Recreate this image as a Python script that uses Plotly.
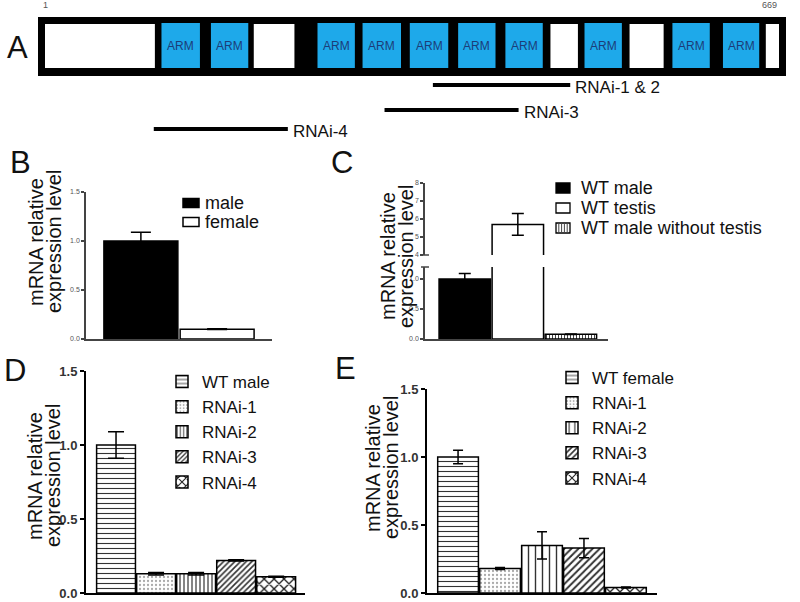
import plotly.graph_objects as go

# ---------------- data ----------------
# Panel A: protein domain map (residue numbers)
protein_length = 669
arm_start = [107, 152, 249, 290, 333, 377, 420, 492, 572, 618]
arm_end = [142, 186, 283, 325, 368, 411, 454, 526, 606, 651]
linker_start = [1, 191, 461, 533, 657]
linker_end = [101, 228, 486, 564, 669]
rnai_names = ["RNAi-1 & 2", "RNAi-3", "RNAi-4"]
rnai_start = [354, 310, 100]
rnai_end = [479, 432, 222]

# Panel B
b_groups = ["male", "female"]
b_values = [1.0, 0.10]
b_errors = [0.09, 0.004]

# Panel C (broken axis)
c_groups = ["WT male", "WT testis", "WT male without testis"]
c_values = [1.0, 5.7, 0.08]
c_errors = [0.09, 0.6, 0.005]

# Panel D
d_groups = ["WT male", "RNAi-1", "RNAi-2", "RNAi-3", "RNAi-4"]
d_values = [1.0, 0.13, 0.13, 0.22, 0.11]
d_errors = [0.09, 0.008, 0.008, 0.004, 0.004]

# Panel E
e_groups = ["WT female", "RNAi-1", "RNAi-2", "RNAi-3", "RNAi-4"]
e_values = [1.0, 0.18, 0.35, 0.33, 0.04]
e_errors = [0.05, 0.008, 0.10, 0.07, 0.004]

# ---------------- helpers / styles ----------------
W, H = 800, 602
FONT = "Liberation Sans, Arial, Helvetica, sans-serif"


def px(x):
    return x / W


def py(y):
    return 1 - y / H


def ann(x, y, text, size, xanchor="center", color="#111", textangle=0, xref="paper", yref="paper", **kw):
    return dict(x=x, y=y, xref=xref, yref=yref, text=text, showarrow=False,
                xanchor=xanchor, yanchor="middle", textangle=textangle,
                font=dict(size=size, color=color, family=FONT), **kw)


fig = go.Figure()

# ---------------- Panel B ----------------
b_fill = ["black", "white"]
for g, v, e, c in zip(b_groups, b_values, b_errors, b_fill):
    fig.add_trace(go.Bar(
        x=[g], y=[v], width=0.97, xaxis="x", yaxis="y", showlegend=False,
        marker=dict(color=c, line=dict(color="black", width=1.5)),
        error_y=dict(type="data", array=[e], color="black", thickness=1.5, width=10),
    ))

# ---------------- Panel C ----------------
c_fill = ["black", "white", "white"]
c_pat = ["", "", "|"]
for ax_y in ["y2", "y3"]:
    for g, v, e, c, p in zip(c_groups, c_values, c_errors, c_fill, c_pat):
        fig.add_trace(go.Bar(
            x=[g], y=[v], width=0.97, xaxis="x2", yaxis=ax_y, showlegend=False,
            marker=dict(color=c, line=dict(color="black", width=1.5),
                        pattern=dict(shape=p, size=3, solidity=0.35,
                                     fgcolor="#444", bgcolor=c)),
            error_y=dict(type="data", array=[e], color="black", thickness=1.5, width=6),
        ))

# ---------------- Panel D ----------------
d_pat = [("-", 5, 0.22, "#333"), (".", 4, 0.25, "#aaa"), ("|", 4, 0.3, "#333"),
         ("/", 4, 0.4, "#333"), ("x", 7, 0.35, "#222")]
for g, v, e, (shp, sz, so, fg) in zip(d_groups, d_values, d_errors, d_pat):
    fig.add_trace(go.Bar(
        x=[g], y=[v], width=0.97, xaxis="x4", yaxis="y4", name=g, legend="legend",
        marker=dict(color="white", line=dict(color="black", width=1.5),
                    pattern=dict(shape=shp, size=sz, solidity=so, fgcolor=fg, bgcolor="white")),
        error_y=dict(type="data", array=[e], color="black", thickness=1.5, width=8),
    ))

# ---------------- Panel E ----------------
e_pat = [("-", 5, 0.22, "#333"), (".", 4, 0.25, "#aaa"), ("|", 7, 0.2, "#333"),
         ("/", 5, 0.4, "#333"), ("x", 7, 0.35, "#222")]
for g, v, e, (shp, sz, so, fg) in zip(e_groups, e_values, e_errors, e_pat):
    fig.add_trace(go.Bar(
        x=[g], y=[v], width=0.97, xaxis="x5", yaxis="y5", name=g, legend="legend2",
        marker=dict(color="white", line=dict(color="black", width=1.5),
                    pattern=dict(shape=shp, size=sz, solidity=so, fgcolor=fg, bgcolor="white")),
        error_y=dict(type="data", array=[e], color="black", thickness=1.5, width=5),
    ))

# ---------------- Panel A ----------------
rnai_row_px = [85, 110, 129]  # vertical placement (layout)
for name, s, e, yrow in zip(rnai_names, rnai_start, rnai_end, rnai_row_px):
    fig.add_trace(go.Scatter(
        x=[s, e], y=[yrow, yrow], mode="lines", xaxis="x6", yaxis="y6",
        line=dict(color="black", width=4), showlegend=False, hoverinfo="skip",
    ))

shapes = []
annotations = []

# black protein box
shapes.append(dict(type="rect", xref="x6 domain", yref="y6",
                   x0=-7 / 734, x1=1 + 7 / 734, y0=17, y1=76,
                   fillcolor="black", line=dict(width=0), layer="below"))
for s, e in zip(linker_start, linker_end):
    shapes.append(dict(type="rect", xref="x6", yref="y6", x0=s, x1=e, y0=24, y1=68,
                       fillcolor="white", line=dict(width=0), layer="below"))
for s, e in zip(arm_start, arm_end):
    shapes.append(dict(type="rect", xref="x6", yref="y6", x0=s, x1=e, y0=23, y1=68,
                       fillcolor="#1ea9ea", line=dict(width=0), layer="below"))
    annotations.append(ann((s + e) / 2, 46, "ARM", 12, color="#1c3d78", xref="x6", yref="y6"))
for name, e, yrow in zip(rnai_names, rnai_end, rnai_row_px):
    annotations.append(ann(e, yrow + 2, name, 17, xanchor="left", xref="x6", yref="y6", xshift=3))
annotations.append(ann(1, 5, "1", 9, color="#555", xref="x6", yref="y6"))
annotations.append(ann(protein_length, 5, str(protein_length), 9, xanchor="right",
                       color="#555", xref="x6", yref="y6"))

# panel letters
for letter, x, y in [("A", 17, 47), ("B", 20, 162), ("C", 342, 162), ("D", 15, 370), ("E", 345, 368)]:
    annotations.append(ann(px(x), py(y), letter, 31))

# y-axis titles (two lines each)
for (x1, x2, yc) in [(36, 54, 242), (388, 406, 256), (35, 53, 476), (373, 391, 468)]:
    annotations.append(ann(px(x1), py(yc), "mRNA relative", 20, textangle=-90))
    annotations.append(ann(px(x2), py(yc), "expression level", 20, textangle=-90))

# manual legend B
b_leg_y = [203, 222]
for g, c, yc in zip(b_groups, b_fill, b_leg_y):
    shapes.append(dict(type="rect", xref="paper", yref="paper", x0=px(183), x1=px(199),
                       y0=py(yc - 4.5), y1=py(yc + 4.5), fillcolor=c,
                       line=dict(color="black", width=1.5)))
    annotations.append(ann(px(203), py(yc), g, 18, xanchor="left"))

# manual legend C
c_leg_y = [188, 208, 228]
for i, (g, c, yc) in enumerate(zip(c_groups, c_fill, c_leg_y)):
    shapes.append(dict(type="rect", xref="paper", yref="paper", x0=px(556), x1=px(570),
                       y0=py(yc - 5), y1=py(yc + 5), fillcolor=c,
                       line=dict(color="black", width=1.3)))
    if c_pat[i] == "|":
        for k in range(1, 5):
            xx = 556 + k * 14 / 5
            shapes.append(dict(type="line", xref="paper", yref="paper", x0=px(xx), x1=px(xx),
                               y0=py(yc - 5), y1=py(yc + 5), line=dict(color="#444", width=1)))
    annotations.append(ann(px(579), py(yc), g, 18, xanchor="left"))

# broken-axis marks for C
for yy in [255, 267]:
    shapes.append(dict(type="line", xref="paper", yref="paper", x0=px(421), x1=px(429),
                       y0=py(yy), y1=py(yy), line=dict(color="#444", width=1.5)))

# ---------------- axes ----------------
small_tick = dict(size=7, color="#555", family=FONT)
big_tick = dict(size=13, color="#333", family=FONT, weight="bold")


def xax(d0, d1, anchor, rng, lw, lc):
    return dict(domain=[px(d0), px(d1)], anchor=anchor, range=rng, showline=True,
                linecolor=lc, linewidth=lw, showticklabels=False, ticks="",
                showgrid=False, zeroline=False, fixedrange=True)


def yax(d0, d1, anchor, rng, tv, tt, tf, lw, lc, tl):
    return dict(domain=[py(d1), py(d0)], anchor=anchor, range=rng, tickvals=tv, ticktext=tt,
                tickfont=tf, showline=True, linecolor=lc, linewidth=lw, ticks="outside",
                ticklen=tl, tickwidth=lw, tickcolor=lc, showgrid=False, zeroline=False,
                fixedrange=True)


fig.update_layout(
    template="none",
    width=W, height=H, margin=dict(l=0, r=0, t=0, b=0),
    paper_bgcolor="white", plot_bgcolor="rgba(0,0,0,0)",
    barmode="overlay", font=dict(family=FONT, color="#111"),
    xaxis=xax(86, 272, "y", [-0.72, 1.72], 1.5, "#444"),
    yaxis=yax(192, 339, "x", [0, 1.5], [0, 0.5, 1, 1.5], ["0.0", "0.5", "1.0", "1.5"],
              small_tick, 1.5, "#444", 3),
    xaxis2=xax(425, 608, "y2", [-0.75, 2.7], 1.5, "#444"),
    yaxis2=yax(267, 339, "x2", [0, 1.2], [0, 0.5, 1], ["0.0", "0.5", "1.0"],
               small_tick, 1.5, "#444", 3),
    yaxis3=yax(183, 255, "x2", [4, 8], [4, 5, 6, 7, 8], ["4", "5", "6", "7", "8"],
               small_tick, 1.5, "#444", 3),
    xaxis4=xax(86, 305, "y4", [-0.75, 4.72], 2, "black"),
    yaxis4=yax(371, 593, "x4", [0, 1.5], [0, 0.5, 1, 1.5], ["0.0", "0.5", "1.0", "1.5"],
               big_tick, 2, "black", 4),
    xaxis5=xax(427, 657, "y5", [-0.74, 4.74], 2, "black"),
    yaxis5=yax(389, 593, "x5", [0, 1.5], [0, 0.5, 1, 1.5], ["0.0", "0.5", "1.0", "1.5"],
               big_tick, 2, "black", 4),
    xaxis6=dict(domain=[px(45), px(779)], anchor="y6", range=[1, protein_length],
                visible=False, fixedrange=True),
    yaxis6=dict(domain=[0, 1], anchor="x6", range=[H, 0], visible=False, fixedrange=True),
    legend=dict(x=px(162), y=py(364), xanchor="left", yanchor="top",
                font=dict(size=17, color="#111", family=FONT), bgcolor="rgba(0,0,0,0)",
                traceorder="normal", itemclick=False, itemdoubleclick=False),
    legend2=dict(x=px(552), y=py(360), xanchor="left", yanchor="top",
                 font=dict(size=17, color="#111", family=FONT), bgcolor="rgba(0,0,0,0)",
                 traceorder="normal", itemclick=False, itemdoubleclick=False),
    shapes=shapes, annotations=annotations,
)

fig.write_html("out.html", config={"displayModeBar": False},
               post_script="document.body.style.margin='0';document.body.style.overflow='hidden';")
